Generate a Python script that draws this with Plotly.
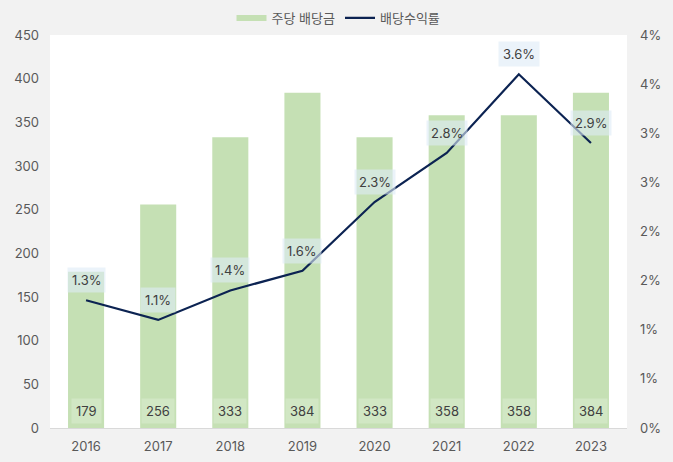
import plotly.graph_objects as go

years = ["2016", "2017", "2018", "2019", "2020", "2021", "2022", "2023"]
dividends = [179, 256, 333, 384, 333, 358, 358, 384]
yields = [0.013, 0.011, 0.014, 0.016, 0.023, 0.028, 0.036, 0.029]
left_ticks = [0, 50, 100, 150, 200, 250, 300, 350, 400, 450]
right_tickvals = [0, 0.005, 0.01, 0.015, 0.02, 0.025, 0.03, 0.035, 0.04]
right_ticktext = ["0%", "1%", "1%", "2%", "2%", "3%", "3%", "4%", "4%"]

FONT = "Inter, 'Noto Sans CJK KR', sans-serif"
BAR_COLOR = "#c5e0b4"
LINE_COLOR = "#0c2352"

fig = go.Figure()
fig.add_trace(go.Bar(x=years, y=dividends, name="주당 배당금",
                     marker=dict(color=BAR_COLOR, line=dict(width=0)),
                     xaxis="x", yaxis="y", showlegend=False))
# legend proxy for bars (wide rectangle swatch)
fig.add_trace(go.Scatter(x=[years[0]], y=[None], name="주당 배당금", mode="lines",
                         line=dict(color=BAR_COLOR, width=6), xaxis="x", yaxis="y"))
fig.add_trace(go.Scatter(x=years, y=yields, name="배당수익률", mode="lines",
                         line=dict(color=LINE_COLOR, width=2.2),
                         xaxis="x", yaxis="y2"))

annotations = []
for i, v in enumerate(dividends):
    annotations.append(dict(x=i, y=0, xref="x", yref="y", yshift=17,
                            text=str(v), showarrow=False,
                            font=dict(family=FONT, size=13, color="#404040"),
                            bgcolor="rgba(255,255,255,0.22)", borderpad=4))
for i, v in enumerate(yields):
    annotations.append(dict(x=i, y=v, xref="x", yref="y2", yshift=20,
                            text=f"{v*100:.1f}%", showarrow=False,
                            font=dict(family=FONT, size=13, color="#404040"),
                            bgcolor="rgba(222,235,247,0.6)", borderpad=4))

fig.update_layout(
    width=673, height=462,
    paper_bgcolor="#f2f2f2", plot_bgcolor="#ffffff",
    margin=dict(l=50, r=46, t=35, b=34, autoexpand=False),
    font=dict(family=FONT, size=13, color="#595959"),
    bargap=0.5,
    showlegend=True,
    legend=dict(orientation="h", x=0.5, xanchor="center",
                yref="container", y=1 - 18 / 462, yanchor="middle",
                font=dict(family=FONT, size=13, color="#595959"),
                bgcolor="rgba(0,0,0,0)", itemwidth=30, tracegroupgap=0),
    xaxis=dict(type="category", categoryorder="array", categoryarray=years,
               range=[-0.5, len(years) - 0.5], autorange=False, automargin=False,
               showgrid=False, showline=True, linecolor="#d9d9d9",
               linewidth=1, ticks="", ticklabelstandoff=6,
               tickfont=dict(size=13, color="#595959")),
    yaxis=dict(range=[0, 450], tickvals=left_ticks, showgrid=False, zeroline=False,
               showline=False, ticks="", ticklabelstandoff=10, automargin=False,
               tickfont=dict(size=13, color="#595959")),
    yaxis2=dict(range=[0, 0.04], tickvals=right_tickvals, ticktext=right_ticktext,
                overlaying="y", side="right", anchor="x", showgrid=False, zeroline=False,
                showline=False, ticks="", ticklabelstandoff=12, automargin=False,
                tickfont=dict(size=13, color="#595959")),
    annotations=annotations,
)

fig.write_html("out.html")
